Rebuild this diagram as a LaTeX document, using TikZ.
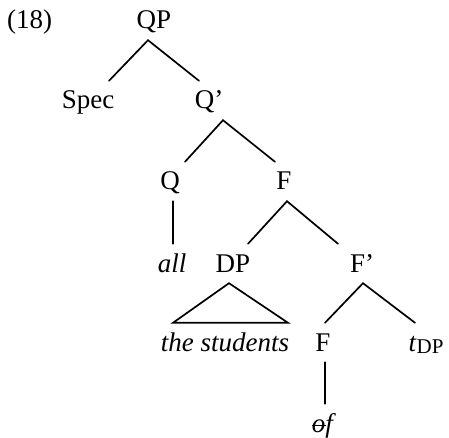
\documentclass[tikz,border=0pt]{standalone}
\usepackage{fontspec}
\setmainfont{Liberation Serif}
\newcommand{\struckO}{{\ooalign{\textit{o}\cr\hidewidth\rule[0.21em]{0.52em}{0.06em}\hidewidth\cr}}}
\begin{document}
\begin{tikzpicture}[x=1pt,y=-1pt,
  lbl/.style={anchor=base,inner xsep=0pt,inner ysep=11pt,text height=17pt,text depth=0pt,
    font=\fontsize{27}{31}\selectfont},
  edge/.style={line width=1.7pt,line cap=round,line join=miter}]
\useasboundingbox (0,0) rectangle (449,438);
% labels
\node[lbl,anchor=base west] (num) at (7,29) {(18)};
\node[lbl] (QP) at (154,29) {QP};
\node[lbl] (Spec) at (88,109) {Spec};
\node[lbl] (Qbar) at (209,109) {Q’};
\node[lbl] (Q) at (170,190) {Q};
\node[lbl] (Fa) at (284,190) {F};
\node[lbl] (all) at (172,272) {\textit{all}};
\node[lbl] (DP) at (233,272) {DP};
\node[lbl] (Fbar) at (362,272) {F’};
\node[lbl] (stud) at (225,351) {\textit{the students}};
\node[lbl] (Fb) at (323,351) {F};
\node[lbl] (tDP) at (426,351) {\textit{t}\raisebox{-0.1em}{\fontsize{21}{23}\selectfont DP}};
\node[lbl] (of) at (324,432) {\struckO\textit{f}};
% connectors
\draw[edge] ([xshift=21pt]Spec.north) -- ([xshift=-6pt]QP.south) -- ([xshift=-10pt]Qbar.north);
\draw[edge] ([xshift=15pt]Q.north) -- ([xshift=14pt]Qbar.south) -- ([xshift=-9pt]Fa.north);
\draw[edge] ([xshift=3pt]Q.south) -- ([xshift=1pt]all.north);
\draw[edge] ([xshift=15pt]DP.north) -- ([xshift=3pt]Fa.south) -- ([xshift=-24pt]Fbar.north);
\draw[edge] ([xshift=-52pt]stud.north) -- ([xshift=-4pt]DP.south) -- ([xshift=63pt]stud.north) -- cycle;
\draw[edge] ([xshift=2pt]Fb.north) -- ([xshift=1pt]Fbar.south) -- ([xshift=-11pt]tDP.north);
\draw[edge] ([xshift=2pt]Fb.south) -- ([xshift=1pt]of.north);
\end{tikzpicture}
\end{document}
